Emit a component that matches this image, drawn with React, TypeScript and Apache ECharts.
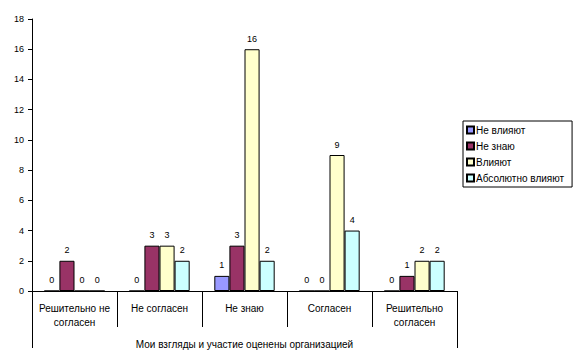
import React, { useEffect, useRef } from "react";
import * as echarts from "echarts";

const categories = ["Решительно не согласен", "Не согласен", "Не знаю", "Согласен", "Решительно согласен"];
const seriesNames = ["Не влияют", "Не знаю", "Влияют", "Абсолютно влияют"];
const neVliyayut = [0, 0, 1, 0, 0];
const neZnayu = [2, 3, 3, 0, 1];
const vliyayut = [0, 3, 16, 9, 2];
const absVliyayut = [0, 2, 2, 4, 2];
const colors = ["#9999FF", "#993366", "#FFFFCC", "#CCFFFF"];
const axisTitle = "Мои взгляды и участие оценены организацией";

function wrap(v: string): string {
  if (v.length <= 13) return v;
  const idx = v.lastIndexOf(" ", 13);
  return idx > 0 ? v.slice(0, idx) + "\n" + v.slice(idx + 1) : v;
}

export default function App() {
  const ref = useRef<HTMLDivElement>(null);
  useEffect(() => {
    const chart = echarts.init(ref.current!, null, { renderer: "svg" });
    const values = [neVliyayut, neZnayu, vliyayut, absVliyayut];
    const font = "Liberation Sans, Arial, sans-serif";
    chart.setOption({
      animation: false,
      textStyle: { fontFamily: font },
      grid: { left: 32, right: 128, top: 19, bottom: 72 },
      legend: {
        orient: "vertical",
        left: 463,
        top: 121,
        itemWidth: 7,
        itemHeight: 7,
        itemGap: 6,
        padding: [4, 8, 4, 3],
        borderColor: "#000",
        borderWidth: 1,
        borderRadius: 0,
        icon: "rect",
        textStyle: { fontSize: 10, color: "#000", fontFamily: font, padding: [0, 0, 0, -3] },
        data: seriesNames,
      },
      xAxis: [
        {
          type: "category",
          data: categories,
          axisLine: { show: true, lineStyle: { color: "#000", width: 1 } },
          axisTick: { show: true, interval: 0, length: 36, lineStyle: { color: "#000" } },
          axisLabel: {
            interval: 0,
            fontSize: 10,
            color: "#000",
            lineHeight: 14,
            margin: 10,
            fontFamily: font,
            formatter: (v: string) => wrap(v),
          },
          name: axisTitle,
          nameLocation: "middle",
          nameGap: 48,
          nameTextStyle: { fontSize: 10, color: "#000", fontFamily: font },
        },
        {
          type: "category",
          position: "bottom",
          data: [""],
          axisLine: { show: false },
          axisTick: { show: true, length: 57, lineStyle: { color: "#000" } },
          axisLabel: { show: false },
        },
      ],
      yAxis: {
        type: "value",
        min: 0,
        max: 18,
        interval: 2,
        axisLine: { show: true, lineStyle: { color: "#000", width: 1 } },
        axisTick: { show: true, length: 4, lineStyle: { color: "#000" } },
        splitLine: { show: false },
        axisLabel: { fontSize: 9, color: "#000", margin: 8, fontFamily: font },
      },
      series: seriesNames.map((name, i) => ({
        name,
        type: "bar",
        xAxisIndex: 0,
        data: values[i],
        barGap: "0%",
        barCategoryGap: "29%",
        itemStyle: { color: colors[i], borderColor: "#000", borderWidth: 1 },
        label: {
          show: true,
          position: "top",
          fontSize: 9,
          color: "#000",
          distance: 6,
          fontFamily: font,
        },
      })),
    });
    return () => chart.dispose();
  }, []);
  return <div ref={ref} style={{ width: 585, height: 363, position: "absolute", left: 0, top: 0 }} />;
}
